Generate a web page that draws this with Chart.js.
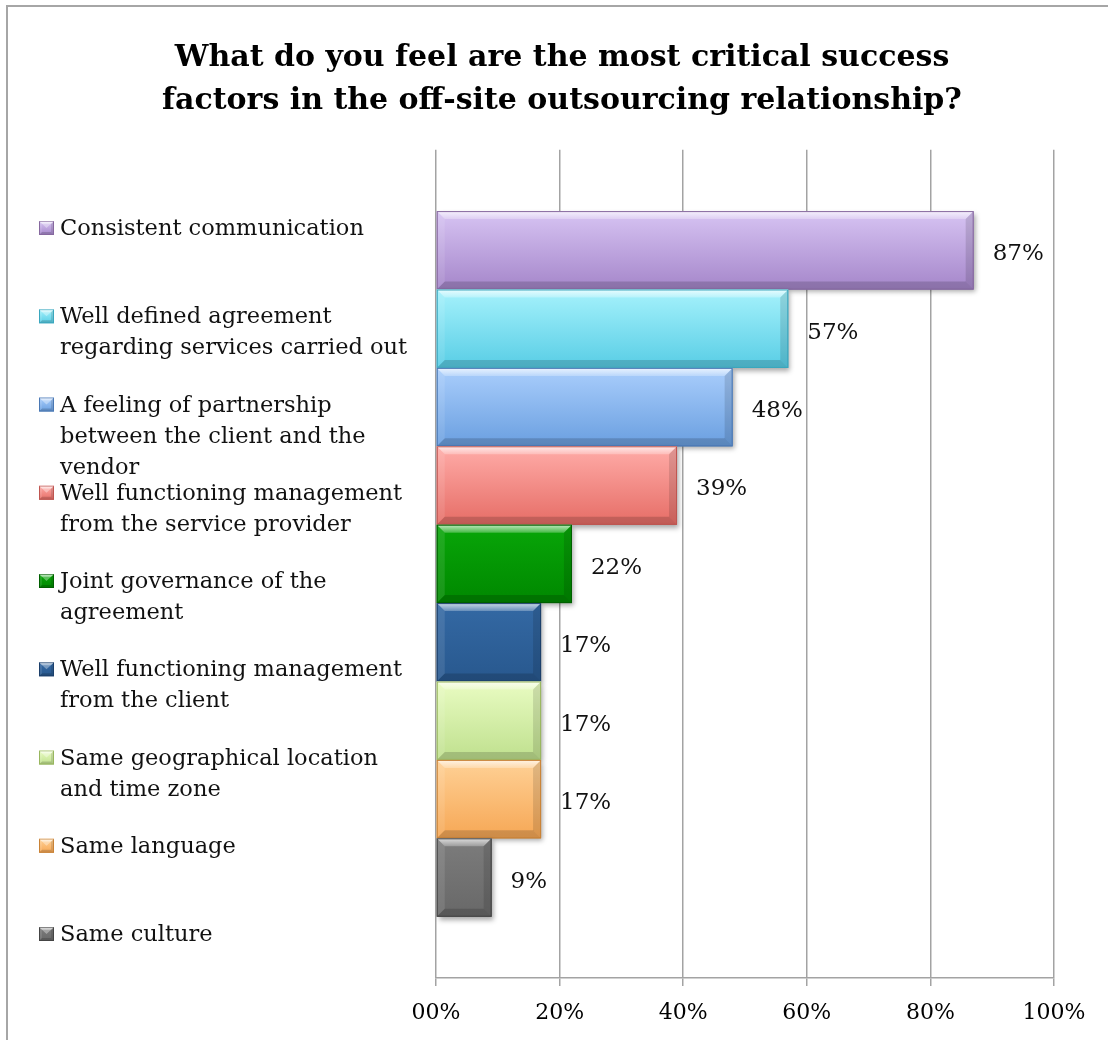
<!DOCTYPE html>
<html>
<head>
<meta charset="utf-8">
<title>Critical success factors in off-site outsourcing</title>
<script src="https://cdn.jsdelivr.net/npm/chart.js@4.4.1/dist/chart.umd.min.js"></script>
<style>
  html, body { margin: 0; padding: 0; background: #ffffff; }
  #wrap { width: 1108px; height: 1040px; position: relative; }
</style>
</head>
<body>
<div id="wrap"><canvas id="chart"></canvas></div>
<script>
// ---- data ----
const titleLines = [
  'What do you feel are the most critical success',
  'factors in the off-site outsourcing relationship?'
];
const factorLines = [
  ['Consistent communication'],
  ['Well defined agreement', 'regarding services carried out'],
  ['A feeling of partnership', 'between the client and the', 'vendor'],
  ['Well functioning management', 'from the service provider'],
  ['Joint governance of the', 'agreement'],
  ['Well functioning management', 'from the client'],
  ['Same geographical location', 'and time zone'],
  ['Same language'],
  ['Same culture']
];
const shares = [87, 57, 48, 39, 22, 17, 17, 17, 9];
const tickLabels = ['00%', '20%', '40%', '60%', '80%', '100%'];

// ---- styling ----
const fillTop    = ['#d7c4f3', '#a6f2fc', '#aacefc', '#ffaca8', '#08a608', '#3469a4', '#e9fcc2', '#ffd196', '#7c7c7c'];
const fillBottom = ['#a586ca', '#58cde5', '#6a9fe0', '#e66d66', '#008800', '#28588e', '#bfe08e', '#f6a755', '#686868'];
const edgeColors = ['#86689f', '#3aa7be', '#4a78b4', '#bf5550', '#005f00', '#1c3f6a', '#98b65e', '#c98236', '#444444'];
const FONT = 'DejaVu Serif';
const TEXT_COLOR = '#111111';

function polygon(ctx, pts, fill) {
  ctx.beginPath();
  ctx.moveTo(pts[0][0], pts[0][1]);
  for (let k = 1; k < pts.length; k++) ctx.lineTo(pts[k][0], pts[k][1]);
  ctx.closePath();
  ctx.fillStyle = fill;
  ctx.fill();
}

// Bevelled block: gradient body, lit top/left edges, shaded bottom/right edges
function paintBevel(ctx, l, t, r, b, i, bw, shadow) {
  ctx.save();
  if (shadow) {
    ctx.shadowColor = 'rgba(0,0,0,0.35)';
    ctx.shadowBlur = 5;
    ctx.shadowOffsetX = 2;
    ctx.shadowOffsetY = 3;
  }
  const g = ctx.createLinearGradient(0, t, 0, b);
  g.addColorStop(0, fillTop[i]);
  g.addColorStop(1, fillBottom[i]);
  ctx.fillStyle = g;
  ctx.fillRect(l, t, r - l, b - t);
  ctx.restore();

  ctx.save();
  const hi = ctx.createLinearGradient(0, t, 0, t + bw);
  hi.addColorStop(0, 'rgba(255,255,255,0.75)');
  hi.addColorStop(1, 'rgba(255,255,255,0.25)');
  polygon(ctx, [[l, t], [r, t], [r - bw, t + bw], [l + bw, t + bw]], hi);
  polygon(ctx, [[l, b], [r, b], [r - bw, b - bw], [l + bw, b - bw]], 'rgba(0,0,0,0.16)');
  polygon(ctx, [[r, t], [r, b], [r - bw, b - bw], [r - bw, t + bw]], 'rgba(0,0,0,0.12)');
  polygon(ctx, [[l, t], [l, b], [l + bw, b - bw], [l + bw, t + bw]], 'rgba(255,255,255,0.10)');
  ctx.strokeStyle = edgeColors[i];
  ctx.lineWidth = 1;
  ctx.strokeRect(l + 0.5, t + 0.5, r - l - 1, b - t - 1);
  ctx.restore();
}

// Frame and white background
const framePlugin = {
  id: 'frame',
  beforeDraw(chart) {
    const ctx = chart.ctx;
    ctx.save();
    ctx.fillStyle = '#ffffff';
    ctx.fillRect(0, 0, chart.width, chart.height);
    ctx.strokeStyle = '#a6a6a6';
    ctx.lineWidth = 2;
    ctx.strokeRect(7, 6, chart.width + 10, chart.height + 10);
    ctx.restore();
  }
};

// Re-shade each bar with a bevel and write its value beside it
const bevelPlugin = {
  id: 'bevelBars',
  afterDatasetsDraw(chart) {
    const ctx = chart.ctx;
    chart.data.datasets.forEach((ds, i) => {
      const meta = chart.getDatasetMeta(i);
      meta.data.forEach((el) => {
        const p = el.getProps(['x', 'y', 'base', 'height'], true);
        const l = Math.min(p.x, p.base), r = Math.max(p.x, p.base);
        const t = p.y - p.height / 2, b = p.y + p.height / 2;
        paintBevel(ctx, l, t, r, b, i, 8, true);
      });
    });
    ctx.save();
    ctx.font = '23px "' + FONT + '"';
    ctx.textAlign = 'left';
    ctx.textBaseline = 'alphabetic';
    chart.data.datasets.forEach((ds, i) => {
      const el = chart.getDatasetMeta(i).data[0];
      const p = el.getProps(['x', 'y'], true);
      ctx.fillStyle = TEXT_COLOR;
      ctx.fillText(ds.data[0] + '%', p.x + 19, p.y + 10);
    });
    ctx.restore();
  }
};

// Legend column on the left with wrapped entries
const LEGEND_FIRST = 227, LEGEND_STEP = 88.25, LEGEND_LINE = 31;
const legendPlugin = {
  id: 'sideLegend',
  afterDraw(chart) {
    const ctx = chart.ctx;
    ctx.save();
    ctx.font = '22.5px "' + FONT + '"';
    ctx.textAlign = 'left';
    ctx.textBaseline = 'alphabetic';
    factorLines.forEach((lines, i) => {
      const yc = LEGEND_FIRST + i * LEGEND_STEP;
      paintBevel(ctx, 39, yc - 6, 54, yc + 8, i, 3, false);
      polygon(ctx, [[39, yc - 6], [54, yc - 6], [46.5, yc + 1]], 'rgba(255,255,255,0.35)');
      ctx.fillStyle = TEXT_COLOR;
      lines.forEach((line, k) => {
        ctx.fillText(line, 60, yc + 8 + k * LEGEND_LINE);
      });
    });
    ctx.restore();
  }
};

const datasets = shares.map((v, i) => ({
  label: factorLines[i].join(' '),
  data: [v],
  backgroundColor: fillBottom[i],
  borderWidth: 0
}));

new Chart(document.getElementById('chart'), {
  type: 'bar',
  data: { labels: [''], datasets },
  options: {
    indexAxis: 'y',
    responsive: true,
    maintainAspectRatio: false,
    animation: false,
    events: [],
    categoryPercentage: 0.852,
    barPercentage: 1,
    layout: { padding: { left: 70, right: 54, top: 0, bottom: 0 } },
    plugins: {
      legend: { display: false },
      tooltip: { enabled: false },
      title: {
        display: true,
        text: titleLines,
        color: '#000000',
        font: { family: FONT, size: 30, weight: 'bold', lineHeight: 1.43 },
        padding: { top: 37, bottom: 27 }
      }
    },
    scales: {
      x: {
        type: 'linear',
        min: 0,
        max: 100,
        ticks: {
          stepSize: 20,
          padding: 16,
          color: '#000000',
          font: { family: FONT, size: 22, lineHeight: 1 },
          callback: (v, idx) => tickLabels[idx]
        },
        grid: { color: '#a3a3a3', lineWidth: 1.5, tickLength: 8, drawTicks: true },
        border: { display: true, color: '#a3a3a3', width: 1.5 }
      },
      y: {
        display: true,
        ticks: { display: false },
        grid: { display: false, drawTicks: false },
        border: { display: false },
        afterFit(scale) { scale.width = 366; }
      }
    }
  },
  plugins: [framePlugin, bevelPlugin, legendPlugin]
});
</script>
</body>
</html>
